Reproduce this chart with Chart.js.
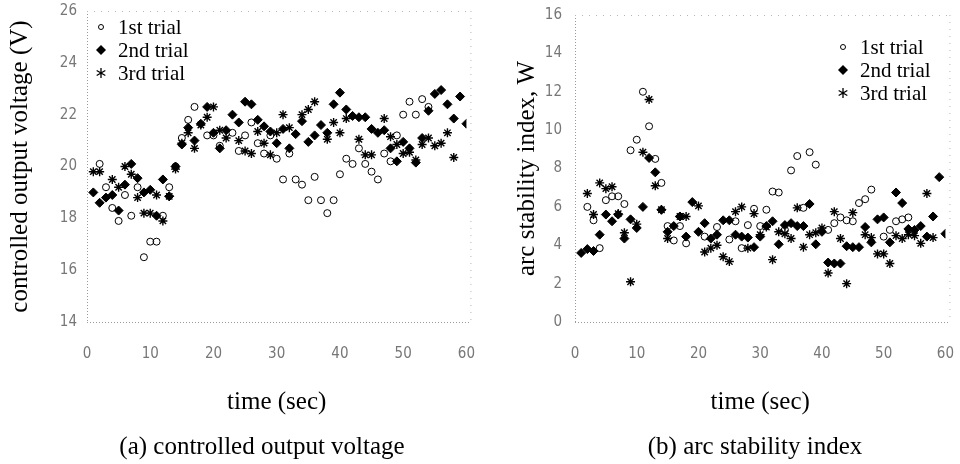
<!DOCTYPE html>
<html>
<head>
<meta charset="utf-8">
<script src="https://cdn.jsdelivr.net/npm/chart.js@4.4.0/dist/chart.umd.min.js"></script>
<style>
  body { margin: 0; background: #fff; width: 960px; height: 464px; position: relative; overflow: hidden; }
  canvas { position: absolute; top: 0; }
  .caption { position: absolute; top: 431px; line-height: 30px; font-family: 'Liberation Serif', 'Times New Roman', serif;
             font-size: 25px; color: #000; white-space: nowrap; transform: translateX(-50%); }
</style>
</head>
<body>
<canvas id="voltChart" width="480" height="464" style="left:0"></canvas>
<canvas id="arcChart" width="480" height="464" style="left:480px"></canvas>
<div class="caption" style="left:262px">(a) controlled output voltage</div>
<div class="caption" style="left:755px">(b) arc stability index</div>
<script>
// ---- (a) controlled output voltage ----
const voltTime1 = [2,3,4,5,6,7,8,9,10,11,12,13,14,15,16,17,19,20,21,23,24,25,26,27,28,29,30,31,32,33,34,35,36,37,38,39,40,41,42,43,44,45,46,47,48,49,50,51,52,53,54];
const voltTrial1 = [20.1,19.2,18.4,17.9,18.9,18.1,19.2,16.5,17.1,17.1,18.1,19.2,20.0,21.1,21.8,22.3,21.2,21.2,20.8,21.3,20.6,21.2,21.7,20.9,20.5,21.2,20.3,19.5,20.5,19.5,19.3,18.7,19.6,18.7,18.2,18.7,19.7,20.3,20.1,20.7,20.1,19.8,19.5,20.5,20.2,21.2,22.0,22.5,22.0,22.6,22.3];
const voltTime2 = [1,2,3,4,5,6,7,8,9,10,11,12,13,14,15,16,17,18,19,20,21,22,23,24,25,26,27,28,29,30,31,32,33,34,35,36,37,38,39,40,41,42,43,44,45,46,47,48,49,50,51,52,53,54,55,56,57,58,59,60];
const voltTrial2 = [19.0,18.6,18.8,18.9,18.3,19.3,20.1,19.55,19.0,19.1,18.1,19.5,18.85,20.0,20.85,21.5,21.0,21.65,22.3,21.3,20.7,21.4,22.0,21.7,22.5,22.4,21.8,21.55,21.35,20.9,21.45,20.7,21.25,21.75,20.95,21.2,21.6,21.3,22.4,22.85,22.2,21.95,21.9,21.9,21.45,21.3,21.4,20.7,20.2,20.95,20.7,20.15,21.1,22.15,22.8,22.95,22.4,21.85,22.7,21.65];
const voltTime3 = [1,2,4,5,6,7,8,9,10,11,12,13,14,15,16,17,18,19,20,21,22,24,25,26,27,28,29,30,31,32,34,35,36,38,39,40,41,43,44,45,47,48,49,50,51,52,53,54,55,56,57,58];
const voltTrial3 = [19.8,19.8,19.5,19.2,20.0,19.7,18.8,18.2,18.2,18.9,17.9,18.85,19.9,20.9,21.3,20.7,21.6,21.9,22.3,21.4,21.1,21.0,20.6,20.5,21.35,20.9,20.45,21.3,22.0,21.5,22.0,22.2,22.5,21.05,21.7,21.3,21.85,21.05,20.45,20.45,21.85,21.15,20.85,20.5,20.55,20.25,20.85,21.1,20.8,20.9,21.3,20.35];

// ---- (b) arc stability index ----
const arcTime1 = [2,3,4,5,6,7,8,9,10,11,12,13,14,15,16,17,18,21,23,25,26,27,28,29,30,31,32,33,34,35,36,37,38,39,41,42,43,44,45,46,47,48,50,51,52,53,54];
const arcTrial1 = [6.0,5.3,3.85,6.35,6.55,6.55,6.15,8.95,9.5,12.0,10.2,8.5,7.25,5.0,4.25,5.0,4.1,4.45,4.95,4.3,5.25,3.85,5.05,5.9,5.0,5.85,6.8,6.75,4.8,7.9,8.65,5.95,8.85,8.2,4.8,5.15,5.45,5.3,5.25,6.2,6.4,6.9,4.45,4.8,5.25,5.35,5.45];
const arcTime2 = [1,2,3,4,5,6,7,8,9,10,11,12,13,14,15,16,17,18,19,20,21,22,23,24,25,26,27,28,29,30,31,32,33,34,35,36,37,38,39,40,41,42,43,44,45,46,47,48,49,50,51,52,53,54,55,56,57,58,59,60];
const arcTrial2 = [3.6,3.8,3.7,4.55,5.6,5.25,5.6,4.35,5.35,4.9,6.0,8.55,7.8,5.85,4.7,5.0,5.5,4.45,6.25,4.7,5.15,4.35,4.55,5.3,5.3,4.55,4.45,4.4,3.9,4.45,5.0,5.25,4.05,5.05,5.15,5.0,5.0,6.15,4.05,4.7,3.1,3.05,3.05,3.95,3.9,3.9,4.95,4.15,5.35,5.45,4.15,6.75,6.2,4.85,4.8,5.0,4.45,5.5,7.55,4.6];
const arcTime3 = [2,3,4,5,6,7,8,9,10,11,12,13,14,15,17,18,20,21,22,23,24,25,26,27,28,29,30,31,32,33,34,35,36,37,38,39,40,41,42,43,44,45,47,48,49,50,51,52,53,54,55,56,57,58];
const arcTrial3 = [6.7,5.6,7.25,6.95,7.05,5.65,4.65,2.1,5.1,8.85,11.6,7.1,5.85,4.35,5.5,5.5,6.05,3.65,3.85,4.0,3.4,3.15,5.75,6.0,3.85,5.65,4.55,4.95,3.25,4.7,4.6,4.35,5.95,3.9,4.55,4.65,4.9,2.55,5.75,4.35,2.0,5.7,4.55,4.4,3.55,3.55,3.05,4.5,4.35,4.55,4.5,4.1,6.7,4.4];

const trialNames = ['1st trial', '2nd trial', '3rd trial'];

const serif = "'Liberation Serif', 'Times New Roman', serif";
const narrow = "'Liberation Sans Narrow', 'DejaVu Sans Condensed', 'Liberation Sans', sans-serif";

function toPoints(xs, ys) {
     return xs.map((x, i) => ({ x: x, y: ys[i] }));
}

// draws the little markers used in the figure (used for the legend)
function drawMarker(ctx, kind, x, y, r) {
     ctx.save();
     ctx.strokeStyle = '#000';
     ctx.fillStyle = '#000';
     ctx.beginPath();
     if (kind === 0) {
          ctx.lineWidth = 1;
          ctx.arc(x, y, r, 0, Math.PI * 2);
          ctx.stroke();
     } else if (kind === 1) {
          ctx.moveTo(x, y - r); ctx.lineTo(x + r, y); ctx.lineTo(x, y + r); ctx.lineTo(x - r, y);
          ctx.closePath();
          ctx.fill();
     } else {
          ctx.lineWidth = 1.3;
          for (let a = 0; a < 3; a++) {
               const ang = Math.PI / 2 + a * Math.PI / 3;
               ctx.moveTo(x + Math.cos(ang) * r, y + Math.sin(ang) * r);
               ctx.lineTo(x - Math.cos(ang) * r, y - Math.sin(ang) * r);
          }
          ctx.stroke();
     }
     ctx.restore();
}

// legend drawn inside the plot; x,y are page-relative to the chart's intended frame
function makeLegend(cfg) {
     return {
          id: 'trialLegend',
          afterDraw(chart) {
               const ctx = chart.ctx;
               const oy = cfg.shiftY || 0;
               ctx.save();
               ctx.font = '21px ' + serif;
               ctx.fillStyle = '#000';
               ctx.textBaseline = 'middle';
               trialNames.forEach((name, i) => {
                    const yy = cfg.legendY + oy + i * 23;
                    drawMarker(ctx, i, cfg.legendX, yy, i === 0 ? 2.5 : 5);
                    ctx.fillText(name, cfg.legendX + 17, yy + 1);
               });
               ctx.restore();
          }
     };
}

// dotted frame around the plotting area
const dottedFrame = {
     id: 'dottedFrame',
     beforeDatasetsDraw(chart) {
          const a = chart.chartArea;
          const ctx = chart.ctx;
          ctx.save();
          ctx.strokeStyle = '#9a9a9a';
          ctx.lineWidth = 1;
          ctx.setLineDash([1, 2]);
          ctx.beginPath();
          ctx.moveTo(a.left + 0.5, a.top); ctx.lineTo(a.left + 0.5, a.bottom);
          ctx.moveTo(a.left, a.bottom + 0.5); ctx.lineTo(a.right + 4, a.bottom + 0.5);
          ctx.stroke();
          ctx.strokeStyle = '#b5b5b5';
          ctx.setLineDash([1, 6]);
          ctx.beginPath();
          ctx.moveTo(a.left, a.top + 0.5); ctx.lineTo(a.right + 4, a.top + 0.5);
          ctx.moveTo(a.right + 4.5, a.top); ctx.lineTo(a.right + 4.5, a.bottom);
          ctx.stroke();
          ctx.restore();
     }
};

function buildDatasets(t1, v1, t2, v2, t3, v3) {
     return [{
          label: trialNames[0],
          data: toPoints(t1, v1),
          pointStyle: 'circle',
          pointRadius: 3.5,
          borderWidth: 1,
          borderColor: '#000',
          backgroundColor: 'rgba(255,255,255,0)'
     }, {
          label: trialNames[1],
          data: toPoints(t2, v2),
          pointStyle: 'rectRot',
          pointRadius: 4.5,
          borderWidth: 1,
          borderColor: '#000',
          backgroundColor: '#000'
     }, {
          label: trialNames[2],
          data: toPoints(t3, v3),
          pointStyle: 'star',
          pointRadius: 4.5,
          borderWidth: 1.4,
          borderColor: '#000',
          backgroundColor: '#000'
     }];
}

function createScatter(canvas, cfg) {
     return new Chart(canvas.getContext('2d'), {
          type: 'scatter',
          data: { datasets: cfg.datasets },
          options: {
               responsive: false,
               maintainAspectRatio: false,
               animation: false,
               layout: { padding: { top: cfg.top, right: cfg.right, bottom: 0, left: 0 } },
               scales: {
                    x: {
                         type: 'linear', min: 0, max: 60,
                         grid: { display: false, drawTicks: false },
                         border: { display: false },
                         ticks: { stepSize: 10, color: '#777', padding: 23, font: { family: narrow, size: 15 } },
                         title: { display: true, text: 'time (sec)', color: '#000', padding: { top: 0, bottom: 47 }, font: { family: serif, size: 25 } },
                         afterFit: (s) => { s.height = 142; }
                    },
                    y: {
                         type: 'linear', min: cfg.yMin, max: cfg.yMax,
                         grid: { display: false, drawTicks: false },
                         border: { display: false },
                         ticks: { stepSize: 2, color: '#777', padding: cfg.tickPad, font: { family: narrow, size: 15 } },
                         title: { display: true, text: cfg.yTitle, color: '#000', padding: { top: cfg.titlePad, bottom: 0 }, font: { family: serif, size: 25 } },
                         afterFit: (s) => { s.width = cfg.yWidth; }
                    }
               },
               plugins: {
                    legend: { display: false },
                    tooltip: { enabled: false }
               }
          },
          plugins: [dottedFrame, makeLegend(cfg)]
     });
}

// build once, see where the plot area landed, then resize/shift the canvas so
// the plot area sits where it is in the figure
function placeChart(canvasId, cfg) {
     const canvas = document.getElementById(canvasId);
     let chart = createScatter(canvas, cfg);
     const ca = chart.chartArea;
     const dx = Math.round(cfg.targetRight - ca.right);
     const dy = Math.round(ca.top - cfg.targetTop);
     chart.destroy();
     canvas.width = 480 + Math.max(dx, 0);
     canvas.height = 464 + Math.max(dy, 0);
     canvas.style.top = (-Math.max(dy, 0)) + 'px';
     cfg.shiftY = Math.max(dy, 0);
     return createScatter(canvas, cfg);
}

placeChart('voltChart', {
     datasets: buildDatasets(voltTime1, voltTrial1, voltTime2, voltTrial2, voltTime3, voltTrial3),
     yMin: 14, yMax: 26, yTitle: 'controlled output voltage (V)',
     top: 11, right: 14, yWidth: 87, tickPad: 10, titlePad: 5,
     targetRight: 466, targetTop: 11,
     legendX: 101, legendY: 27
});

placeChart('arcChart', {
     datasets: buildDatasets(arcTime1, arcTrial1, arcTime2, arcTrial2, arcTime3, arcTrial3),
     yMin: 0, yMax: 16, yTitle: 'arc stability index, W',
     top: 15, right: 15, yWidth: 95, tickPad: 13, titlePad: 32,
     targetRight: 465, targetTop: 15,
     legendX: 363, legendY: 47
});
</script>
</body>
</html>
